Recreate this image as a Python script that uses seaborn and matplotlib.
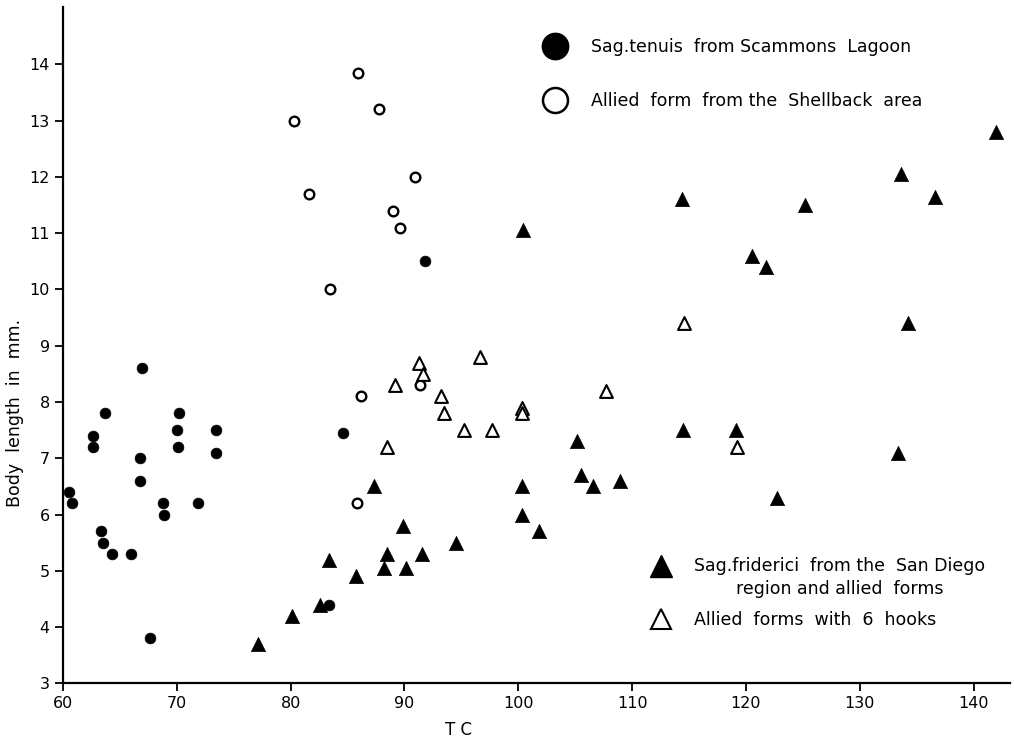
import matplotlib
matplotlib.use("Agg")
import numpy as np
import matplotlib.pyplot as plt
import seaborn as sns
import pandas as pd
from matplotlib.lines import Line2D
from matplotlib.legend_handler import HandlerLine2D

# ---- data ----
tenuis_tc = [60.5, 60.8, 62.6, 62.6, 63.7, 63.3, 63.5, 64.3, 66.0, 66.9, 66.8, 66.8,
             67.6, 68.8, 68.9, 70.0, 70.2, 70.1, 71.9, 73.4, 73.4, 84.6, 91.8, 83.4]
tenuis_len = [6.4, 6.2, 7.4, 7.2, 7.8, 5.7, 5.5, 5.3, 5.3, 8.6, 7.0, 6.6,
              3.8, 6.2, 6.0, 7.5, 7.8, 7.2, 6.2, 7.5, 7.1, 7.45, 10.5, 4.4]

shellback_tc = [85.9, 87.8, 80.3, 90.9, 81.6, 89.0, 89.6, 83.5, 86.2, 91.4, 85.8]
shellback_len = [13.85, 13.2, 13.0, 12.0, 11.7, 11.4, 11.1, 10.0, 8.1, 8.3, 6.2]

friderici_tc = [77.1, 80.1, 82.6, 83.4, 85.7, 87.3, 88.2, 88.5, 89.9, 90.1, 91.5, 94.5,
                100.3, 100.3, 100.4, 101.8, 105.2, 105.5, 106.6, 108.9, 114.4, 114.5,
                119.1, 120.5, 121.8, 122.7, 125.2, 133.4, 133.6, 134.2, 136.6, 142.0]
friderici_len = [3.7, 4.2, 4.4, 5.2, 4.9, 6.5, 5.05, 5.3, 5.8, 5.05, 5.3, 5.5,
                 6.5, 6.0, 11.05, 5.7, 7.3, 6.7, 6.5, 6.6, 11.6, 7.5,
                 7.5, 10.6, 10.4, 6.3, 11.5, 7.1, 12.05, 9.4, 11.65, 12.8]

hooks6_tc = [88.5, 89.2, 91.3, 91.6, 93.2, 93.5, 95.2, 96.6, 97.7, 100.3, 100.3,
             107.7, 114.6, 119.2]
hooks6_len = [7.2, 8.3, 8.7, 8.5, 8.1, 7.8, 7.5, 8.8, 7.5, 7.9, 7.8,
              8.2, 9.4, 7.2]

x_ticks = [60, 70, 80, 90, 100, 110, 120, 130, 140]
y_ticks = [3, 4, 5, 6, 7, 8, 9, 10, 11, 12, 13, 14]

labels = ["Sag.tenuis  from Scammons  Lagoon",
          "Allied  form  from the  Shellback  area",
          "Sag.friderici  from the  San Diego\nregion and allied  forms",
          "Allied  forms  with  6  hooks"]


class ShiftedHandler(HandlerLine2D):
    """Legend handler that nudges the marker vertically (points)."""
    def __init__(self, dy=0.0, **kw):
        super().__init__(**kw)
        self.dy = dy

    def create_artists(self, legend, orig_handle, xdescent, ydescent,
                       width, height, fontsize, trans):
        arts = super().create_artists(legend, orig_handle, xdescent, ydescent,
                                      width, height, fontsize, trans)
        for a in arts:
            a.set_ydata(np.asarray(a.get_ydata(), dtype=float) + self.dy)
        return arts


# ---- figure ----
sns.set_theme(style="ticks")
plt.rcParams["font.family"] = ["DejaVu Sans"]
plt.rcParams["text.color"] = "black"
plt.rcParams["axes.labelcolor"] = "black"
plt.rcParams["xtick.color"] = "black"
plt.rcParams["ytick.color"] = "black"

fig = plt.figure(figsize=(10.14, 7.38), dpi=100)
ax = fig.add_axes([63 / 1014, 1 - 683.3 / 738, (1010 - 63) / 1014, (683.3 - 7) / 738])

df_t = pd.DataFrame({"TC": tenuis_tc, "L": tenuis_len})
df_s = pd.DataFrame({"TC": shellback_tc, "L": shellback_len})
df_f = pd.DataFrame({"TC": friderici_tc, "L": friderici_len})
df_h = pd.DataFrame({"TC": hooks6_tc, "L": hooks6_len})

sns.scatterplot(data=df_t, x="TC", y="L", ax=ax, marker="o", s=60,
                color="black", edgecolor="black", linewidth=0.5, zorder=3)
sns.scatterplot(data=df_s, x="TC", y="L", ax=ax, marker="o", s=48,
                facecolor="white", edgecolor="black", linewidth=1.7, zorder=3)
sns.scatterplot(data=df_f, x="TC", y="L", ax=ax, marker="^", s=105,
                color="black", edgecolor="black", linewidth=0.5, zorder=3)
sns.scatterplot(data=df_h, x="TC", y="L", ax=ax, marker="^", s=85,
                facecolor="white", edgecolor="black", linewidth=1.5, zorder=3)

ax.set_xlim(60, 143.2)
ax.set_ylim(3, 15.02)
ax.set_xticks(x_ticks)
ax.set_yticks(y_ticks)
ax.tick_params(axis="both", labelsize=11.5, width=1.3, length=6, color="black",
               labelcolor="black")
for sp in ["left", "bottom"]:
    ax.spines[sp].set_linewidth(1.6)
    ax.spines[sp].set_color("black")
sns.despine(ax=ax)

ax.set_xlabel("T C", fontsize=12, color="black")
ax.set_ylabel("Body  length  in  mm.", fontsize=12.5, color="black")
ax.xaxis.set_label_coords(0.418, -0.0555)
ax.yaxis.set_label_coords(-0.0412, 0.40)

# ---- legends ----
h1 = [Line2D([], [], ls="", marker="o", markersize=19, mfc="black", mec="black"),
      Line2D([], [], ls="", marker="o", markersize=18, mfc="white", mec="black", mew=1.8)]
leg1 = ax.legend(h1, labels[:2], loc="upper left", frameon=False, fontsize=12.5,
                 bbox_to_anchor=(537.6 / 1014, 1 - 38 / 738), bbox_transform=fig.transFigure,
                 borderpad=0, borderaxespad=0, handlelength=2, handletextpad=1.07,
                 labelspacing=2.07)
ax.add_artist(leg1)

h2 = [Line2D([], [], ls="", marker="^", markersize=16, mfc="black", mec="black"),
      Line2D([], [], ls="", marker="^", markersize=15, mfc="white", mec="black", mew=1.5)]
leg2 = ax.legend(h2, labels[2:], loc="upper left", frameon=False, fontsize=12.5,
                 bbox_to_anchor=(643.6 / 1014, 1 - 557 / 738), bbox_transform=fig.transFigure,
                 borderpad=0, borderaxespad=0, handlelength=2, handletextpad=0.9,
                 labelspacing=0.75,
                 handler_map={h2[0]: ShiftedHandler(dy=9.0)})
for t in leg2.get_texts():
    t.set_multialignment("center")
    t.set_linespacing(1.38)

fig.savefig("out.png", dpi=100, facecolor="white")
